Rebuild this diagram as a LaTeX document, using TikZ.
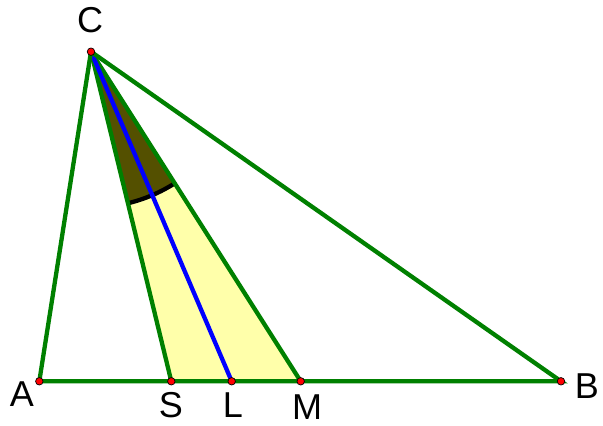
\documentclass[tikz,border=0pt]{standalone}
\usepackage{fontspec}
\setmainfont{Liberation Sans}
\usetikzlibrary{calc}
\definecolor{gLine}{RGB}{0,128,0}
\definecolor{bLine}{RGB}{0,0,255}
\definecolor{yFill}{RGB}{255,255,170}
\definecolor{oFill}{RGB}{84,80,0}
\tikzset{
  side/.style={draw=gLine, line width=4.3pt, line cap=round},
  bis/.style={draw=bLine, line width=4.3pt},
  mark arc/.style={draw=black, line width=4.3pt},
  pt/.style={circle, draw=black, fill=red, inner sep=0pt,
             minimum size=7.5pt, line width=0.7pt},
  lbl/.style={font=\fontsize{36}{42}\selectfont, inner sep=0pt},
}

\begin{document}
\begin{tikzpicture}[x=1pt, y=-1pt]
  \useasboundingbox (0,0) rectangle (603,426);
  \coordinate (C) at (91,51.7);
  \coordinate (A) at (39.3,381.3);
  \coordinate (B) at (561,381.3);
  \coordinate (S) at (171.3,381.3);
  \coordinate (L) at (231.7,381.3);
  \coordinate (M) at (300.7,381.3);
  \coordinate (a1) at ($(C)!156pt!(S)$);
  \fill[yFill] (C) -- (S) -- (M) -- cycle;
  \fill[oFill] let \p1=($(S)-(C)$), \p2=($(M)-(C)$),
        \n1={atan2(\y1,\x1)}, \n2={atan2(\y2,\x2)} in
    (C) -- (a1) arc[start angle=\n1, end angle=\n2, radius=156pt] -- cycle;
  \draw[mark arc] let \p1=($(S)-(C)$), \p2=($(M)-(C)$),
        \n1={atan2(\y1,\x1)}, \n2={atan2(\y2,\x2)} in
    (a1) arc[start angle=\n1, end angle=\n2, radius=156pt];
  \draw[side] (C) -- (S);
  \draw[side] (C) -- (M);
  \draw[bis] (C) -- (L);
  \draw[side] (A) -- (B) -- (C) -- cycle;
  \foreach \p in {A,B,C,S,L,M}
    \node[pt] (d\p) at (\p) {};
  \node[lbl] (lC) at (90,20) {C};
  \node[lbl] (lA) at (22,394) {A};
  \node[lbl] (lS) at (171,405) {S};
  \node[lbl] (lL) at (233,405) {L};
  \node[lbl] (lM) at (307,407) {M};
  \node[lbl] (lB) at (587,386) {B};
\end{tikzpicture}
\end{document}
